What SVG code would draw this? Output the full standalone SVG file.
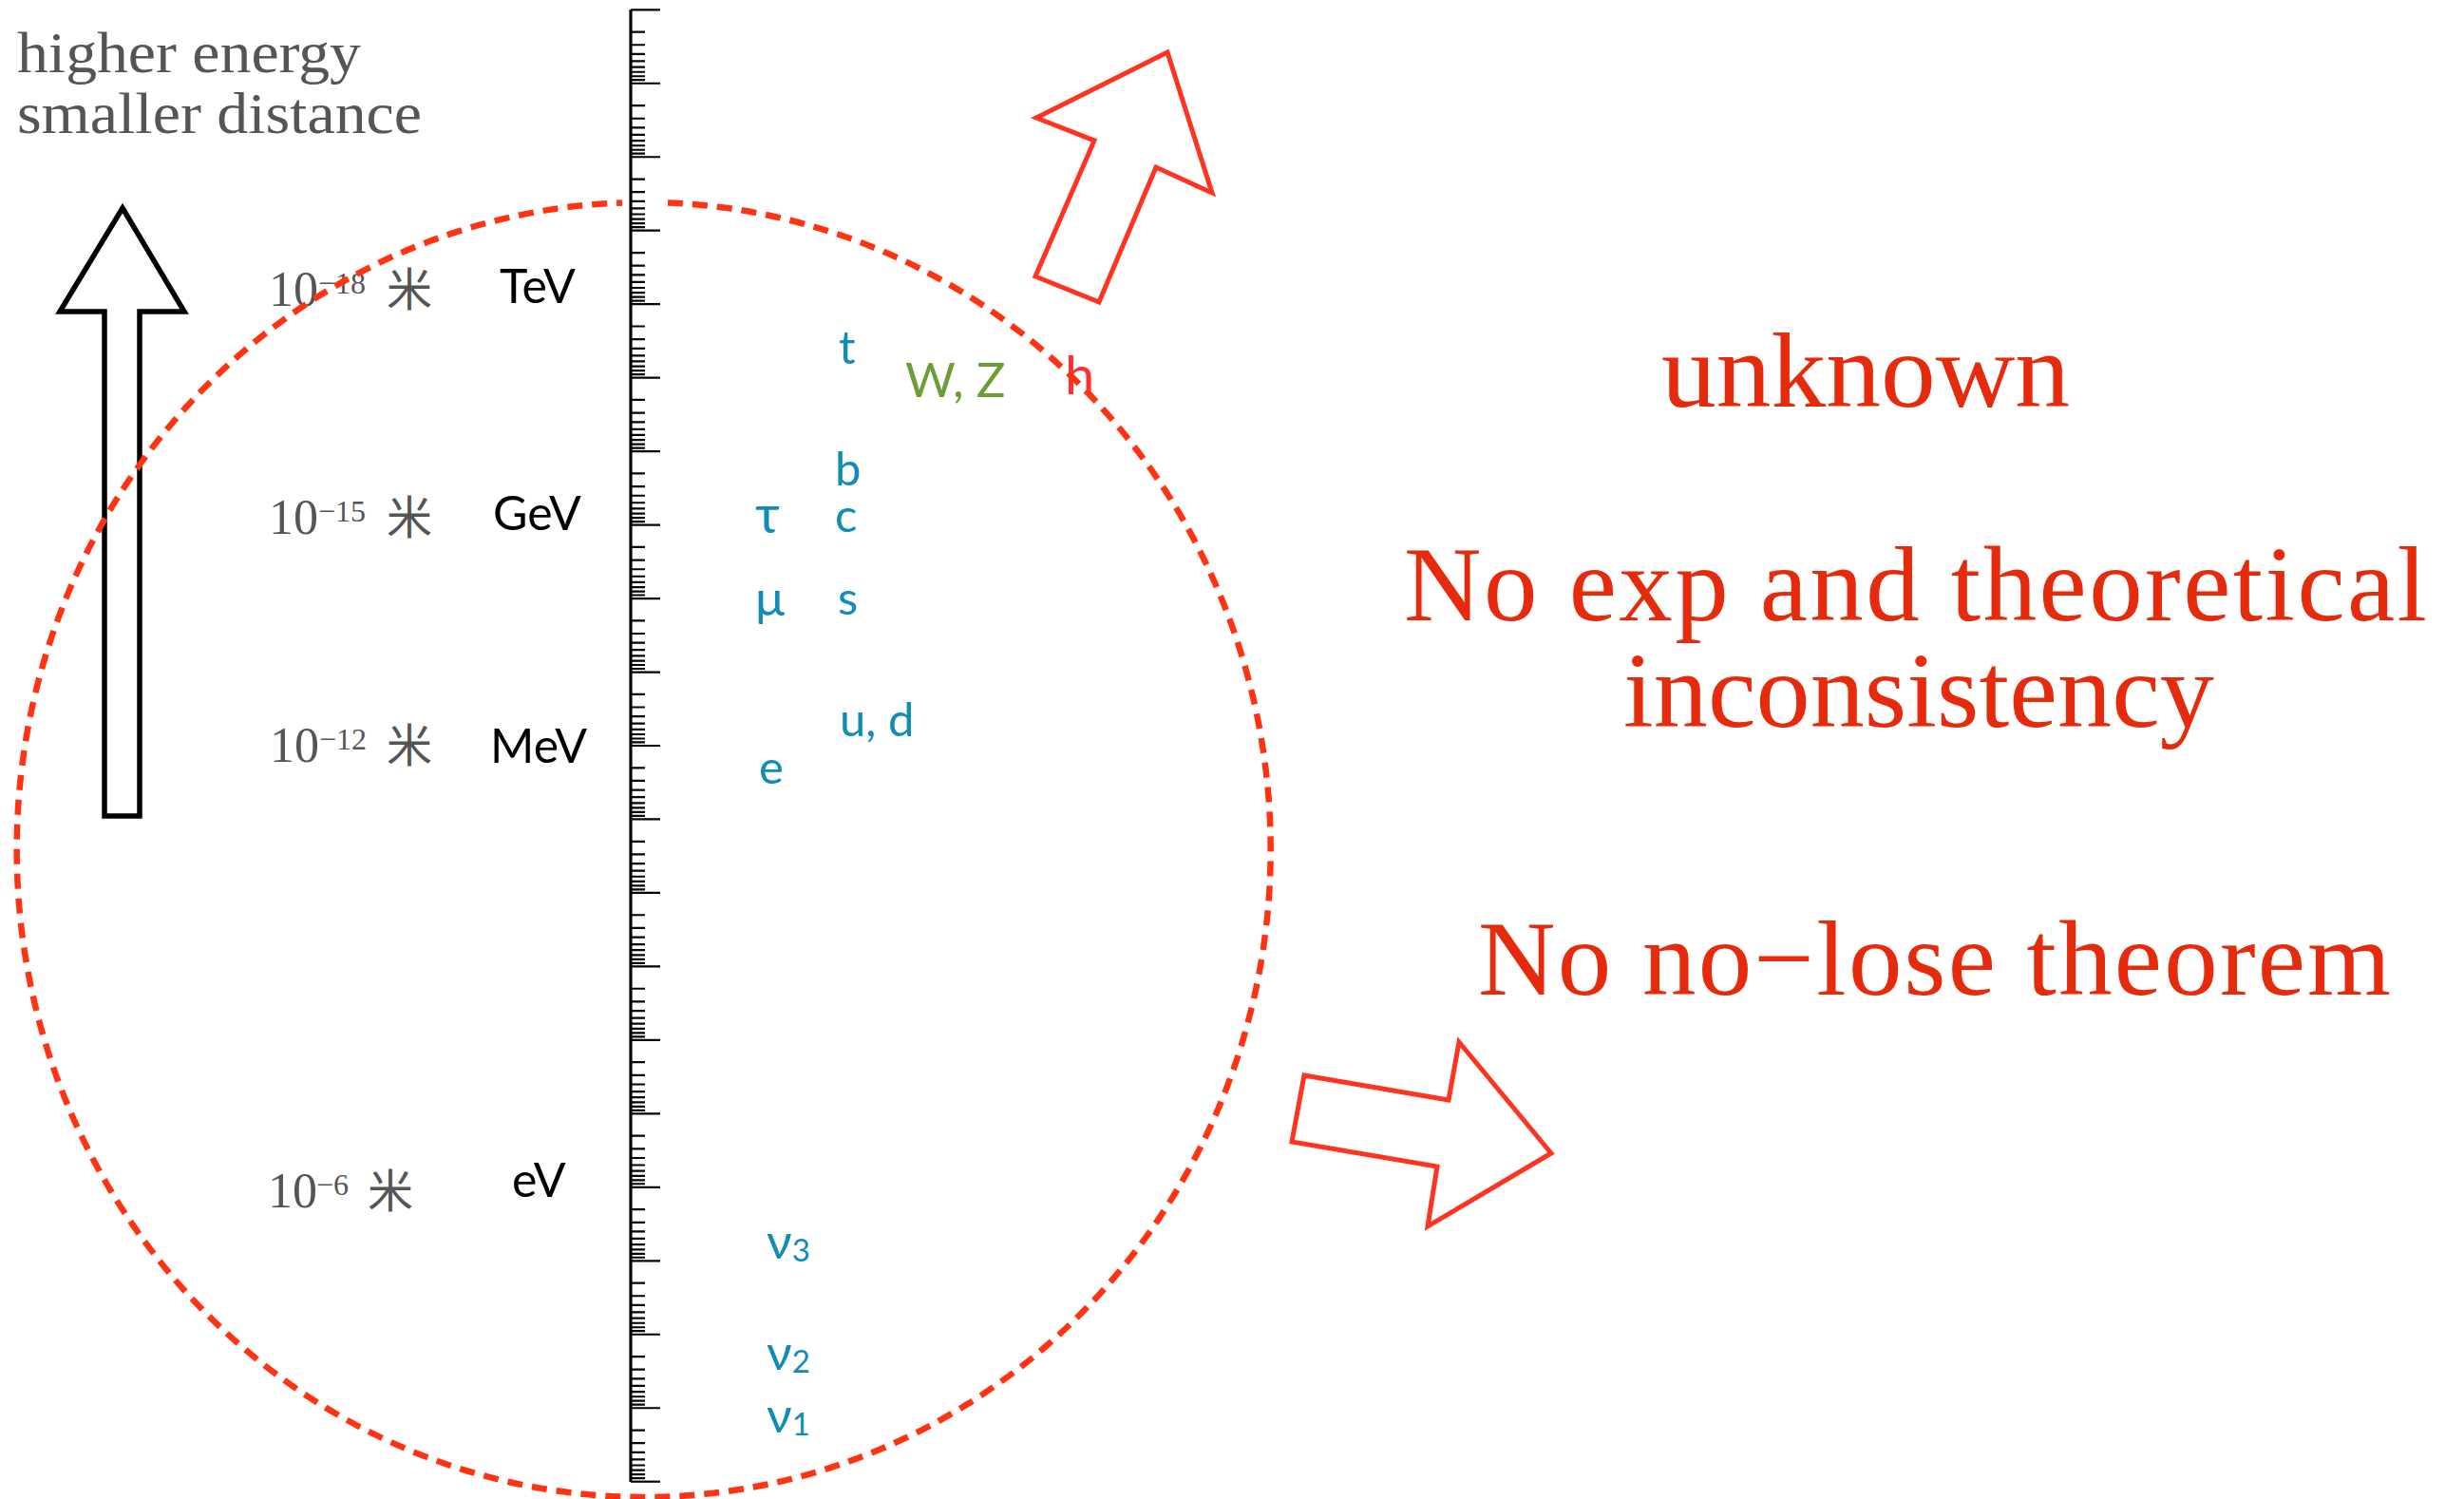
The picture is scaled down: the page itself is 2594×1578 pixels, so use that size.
<svg xmlns="http://www.w3.org/2000/svg" xmlns:xlink="http://www.w3.org/1999/xlink" width="2594" height="1578" viewBox="0 0 2594 1578">
<style>
.serif{font-family:"Liberation Serif","Times New Roman",serif;}
.gray{fill:#555555;}
.cjk{font-family:"Noto Sans CJK SC","Noto Sans CJK JP",sans-serif;fill:#555555;}
.unit{font-family:Lato,"Open Sans","Noto Sans",sans-serif;font-size:50px;fill:#000000;}
.pt{font-family:Lato,"Open Sans","Noto Sans",sans-serif;font-size:49px;fill:#118cb6;}
.sub{font-size:33px;}
.red{fill:#e62a0c;font-size:113px;}
.tick{stroke:#000;stroke-width:2.2;fill:none;}
.rarrow{fill:none;stroke:#ff3322;stroke-width:5;stroke-linejoin:miter;}
</style>
<defs>
<g id="decade">
<path class="tick" d="M664,0H695 M664,23.32H679 M664,36.96H679 M664,46.64H679 M664,54.15H679 M664,60.28H679 M664,65.47H679 M664,69.96H679 M664,73.92H679"/>
</g>
</defs>
<rect width="2594" height="1578" fill="#ffffff"/>

<g id="heading">
<text class="serif gray" x="18" y="76" font-size="62" textLength="362" lengthAdjust="spacingAndGlyphs">higher energy</text>
<text class="serif gray" x="18" y="140" font-size="62" textLength="426" lengthAdjust="spacingAndGlyphs">smaller distance</text>
</g>

<g id="up-arrow">
<polygon points="129,219 194,328 147,328 147,859 110,859 110,328 63,328" fill="none" stroke="#000" stroke-width="5.5" stroke-linejoin="miter"/>
</g>

<g id="ruler">
<line x1="664" y1="10.3" x2="664" y2="1560" stroke="#000" stroke-width="3.2"/>
<use xlink:href="#decade" y="10.3"/>
<use xlink:href="#decade" y="87.77"/>
<use xlink:href="#decade" y="165.24"/>
<use xlink:href="#decade" y="242.71"/>
<use xlink:href="#decade" y="320.18"/>
<use xlink:href="#decade" y="397.65"/>
<use xlink:href="#decade" y="475.12"/>
<use xlink:href="#decade" y="552.59"/>
<use xlink:href="#decade" y="630.06"/>
<use xlink:href="#decade" y="707.53"/>
<use xlink:href="#decade" y="785"/>
<use xlink:href="#decade" y="862.47"/>
<use xlink:href="#decade" y="939.94"/>
<use xlink:href="#decade" y="1017.41"/>
<use xlink:href="#decade" y="1094.88"/>
<use xlink:href="#decade" y="1172.35"/>
<use xlink:href="#decade" y="1249.82"/>
<use xlink:href="#decade" y="1327.29"/>
<use xlink:href="#decade" y="1404.76"/>
<use xlink:href="#decade" y="1482.23"/>
<path class="tick" d="M664,1559.7H695"/>
</g>

<g id="scale-TeV">
<text class="serif gray" x="283" y="322" font-size="52">10</text>
<text class="serif gray" x="335" y="309" font-size="32">−18</text>
<text class="cjk" x="407" y="322" font-size="48">米</text>
<text class="unit" x="526" y="319">TeV</text>
</g>
<g id="scale-GeV">
<text class="serif gray" x="283" y="562" font-size="52">10</text>
<text class="serif gray" x="335" y="549" font-size="32">−15</text>
<text class="cjk" x="407" y="562" font-size="48">米</text>
<text class="unit" x="519" y="558">GeV</text>
</g>
<g id="scale-MeV">
<text class="serif gray" x="284" y="802" font-size="52">10</text>
<text class="serif gray" x="336" y="789" font-size="32">−12</text>
<text class="cjk" x="407" y="802" font-size="48">米</text>
<text class="unit" x="516" y="803">MeV</text>
</g>
<g id="scale-eV">
<text class="serif gray" x="282" y="1271" font-size="52">10</text>
<text class="serif gray" x="333" y="1258" font-size="32">−6</text>
<text class="cjk" x="387" y="1271" font-size="48">米</text>
<text class="unit" x="539" y="1260">eV</text>
</g>

<g id="particles">
<text class="pt" x="883" y="383">t</text>
<text class="pt" x="953" y="418" style="fill:#6c9d37;font-size:51px">W, Z</text>
<text class="pt" x="1121" y="415" style="fill:#ff2f2f;font-size:56px">h</text>
<text class="pt" x="879" y="511">b</text>
<text class="pt" x="795" y="561" style="font-size:56px">τ</text>
<text class="pt" x="879" y="560">c</text>
<text class="pt" x="795" y="648" style="font-size:52px">μ</text>
<text class="pt" x="882" y="647">s</text>
<text class="pt" x="884" y="775">u, d</text>
<text class="pt" x="799" y="825">e</text>
<text class="pt" x="807" y="1325" style="font-size:52px">ν<tspan class="sub" dy="3">3</tspan></text>
<text class="pt" x="807" y="1442" style="font-size:52px">ν<tspan class="sub" dy="3">2</tspan></text>
<text class="pt" x="807" y="1508" style="font-size:52px">ν<tspan class="sub" dy="3">1</tspan></text>
</g>

<g id="boundary">
<path d="M703,213.5 A660,681.5 0 1 1 655,213.4" fill="none" stroke="#ff3311" stroke-width="6.5" stroke-dasharray="16 10"/>
</g>

<g id="arrows">
<polygon class="rarrow" points="1229,55 1276,203 1217,176 1157,318 1090,291 1152,148 1091,124"/>
<polygon class="rarrow" points="1373,1132 1525,1158 1536,1097 1633,1214 1503,1291 1513,1228 1360,1202"/>
</g>

<g id="statements">
<text class="serif red" x="1749" y="428" textLength="430" lengthAdjust="spacingAndGlyphs">unknown</text>
<text class="serif red" x="1478" y="653" textLength="1077" lengthAdjust="spacing">No exp and theoretical</text>
<text class="serif red" x="1709" y="765" textLength="622" lengthAdjust="spacingAndGlyphs">inconsistency</text>
<text class="serif red" x="1556" y="1047" textLength="961" lengthAdjust="spacing">No no−lose theorem</text>
</g>
</svg>
